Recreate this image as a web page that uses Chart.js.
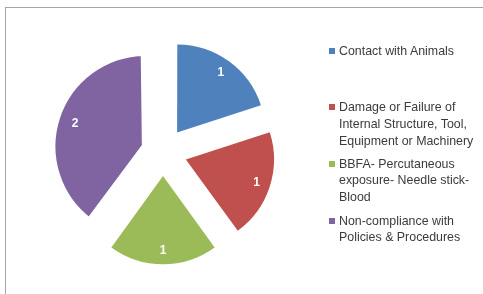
<!DOCTYPE html>
<html lang="en">
  <head>
    <meta charset="UTF-8" />
    <title>Incidents by cause</title>
    <script src="https://cdn.jsdelivr.net/npm/chart.js@4.4.0/dist/chart.umd.min.js"></script>
    <style>
      html, body { margin: 0; padding: 0; background: #fff; overflow: hidden; }
      #wrap { position: relative; width: 483px; height: 294px; }
      #frame {
        position: absolute; left: 5px; top: 7px; width: 500px; height: 300px;
        border-left: 1px solid #a3a3a3; border-top: 1px solid #a3a3a3;
      }
      #chart { position: absolute; left: 0; top: 0; }
      #legend { position: absolute; left: 0; top: 0; font-family: "Liberation Sans", Arial, sans-serif; font-size: 12.4px; color: #3b3b3b; }
      .item { position: absolute; left: 339px; line-height: 16.7px; white-space: nowrap; }
      .box { position: absolute; left: -10px; top: 5px; width: 6px; height: 6px; }
    </style>
  </head>
  <body>
    <div id="wrap">
      <div id="frame"></div>
      <canvas id="chart" width="483" height="294"></canvas>
      <div id="legend"></div>
    </div>

    <script>
      // categories (split into the lines shown in the legend)
      const categories = [
        ["Contact with Animals"],
        ["Damage or Failure of", "Internal Structure, Tool,", "Equipment or Machinery"],
        ["BBFA- Percutaneous", "exposure- Needle stick-", "Blood"],
        ["Non-compliance with", "Policies & Procedures"],
      ];
      const counts = [1, 1, 1, 2];
      const colors = ["#4f81bd", "#c0504d", "#9bbb59", "#8064a2"];

      // white value labels inside each slice
      const sliceLabels = {
        id: "sliceLabels",
        afterDatasetsDraw(chart) {
          const ctx = chart.ctx;
          const meta = chart.getDatasetMeta(0);
          ctx.save();
          ctx.fillStyle = "#fff";
          ctx.font = "bold 12px 'Liberation Sans', Arial, sans-serif";
          ctx.textAlign = "center";
          ctx.textBaseline = "middle";
          meta.data.forEach((arc, i) => {
            const mid = (arc.startAngle + arc.endAngle) / 2;
            const shift = (arc.options.offset || 0) / 4;
            const r = arc.outerRadius * 0.855 + shift;
            ctx.fillText(String(counts[i]), arc.x + Math.cos(mid) * r, arc.y + Math.sin(mid) * r);
          });
          ctx.restore();
        },
      };

      const ctx = document.getElementById("chart").getContext("2d");
      new Chart(ctx, {
        type: "pie",
        data: {
          labels: categories,
          datasets: [
            {
              data: counts,
              backgroundColor: colors,
              // the big slice grows when pulled out, a white edge trims it back
              borderColor: "#fff",
              borderWidth: [0, 0, 0, 8],
              offset: [96, 96, 96, 72],
              hoverOffset: 0,
            },
          ],
        },
        options: {
          responsive: false,
          animation: false,
          radius: 87,
          layout: { padding: { left: 0, right: 157, top: 10, bottom: 0 } },
          plugins: {
            legend: { display: false },
            tooltip: { enabled: false },
          },
        },
        plugins: [sliceLabels],
      });

      // legend on the right, items spaced evenly like the original
      const legendTops = [51, 107.5, 164, 221];
      const legend = document.getElementById("legend");
      categories.forEach((lines, i) => {
        const item = document.createElement("div");
        item.className = "item";
        item.style.top = legendTops[i] - 8.35 + "px";
        const box = document.createElement("span");
        box.className = "box";
        box.style.background = colors[i];
        item.appendChild(box);
        lines.forEach((line, j) => {
          if (j > 0) item.appendChild(document.createElement("br"));
          item.appendChild(document.createTextNode(line));
        });
        legend.appendChild(item);
      });
    </script>
  </body>
</html>
